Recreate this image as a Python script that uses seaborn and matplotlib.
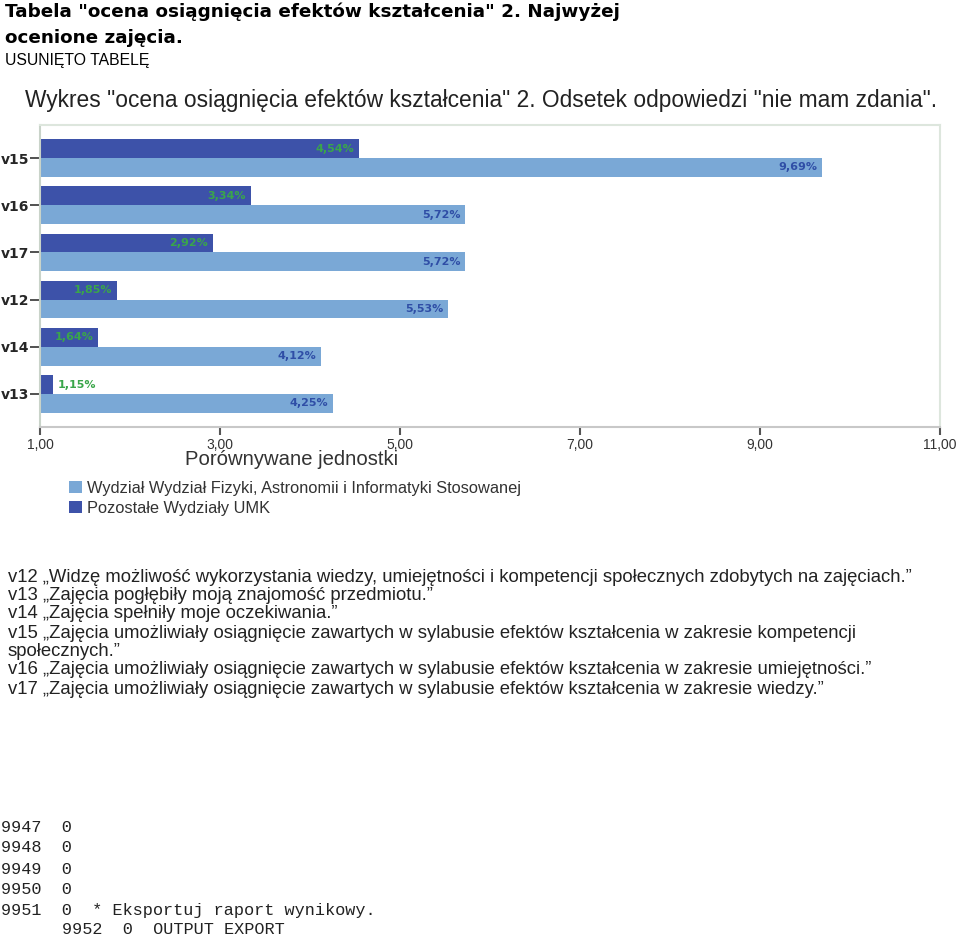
import matplotlib
matplotlib.use("Agg")
import matplotlib.pyplot as plt
import seaborn as sns
import pandas as pd
from matplotlib.patches import Patch

# ---- data ----
categories = ["v15", "v16", "v17", "v12", "v14", "v13"]
group_other = "Pozostałe Wydziały UMK"
group_faculty = "Wydział Wydział Fizyki, Astronomii i Informatyki Stosowanej"
values_other = [4.54, 3.34, 2.92, 1.85, 1.64, 1.15]
values_faculty = [9.69, 5.72, 5.72, 5.53, 4.12, 4.25]
x_ticks = [1, 3, 5, 7, 9, 11]
x_tick_labels = ["1,00", "3,00", "5,00", "7,00", "9,00", "11,00"]
notes = [
    "v12 \u201eWidzę możliwość wykorzystania wiedzy, umiejętności i kompetencji społecznych zdobytych na zajęciach.\u201d",
    "v13 \u201eZajęcia pogłębiły moją znajomość przedmiotu.\u201d",
    "v14 \u201eZajęcia spełniły moje oczekiwania.\u201d",
    "v15 \u201eZajęcia umożliwiały osiągnięcie zawartych w sylabusie efektów kształcenia w zakresie kompetencji",
    "społecznych.\u201d",
    "v16 \u201eZajęcia umożliwiały osiągnięcie zawartych w sylabusie efektów kształcenia w zakresie umiejętności.\u201d",
    "v17 \u201eZajęcia umożliwiały osiągnięcie zawartych w sylabusie efektów kształcenia w zakresie wiedzy.\u201d",
]
code_lines = ["9947  0", "9948  0", "9949  0", "9950  0", "9951  0  * Eksportuj raport wynikowy."]
code_last = "9952  0  OUTPUT EXPORT"

df = pd.DataFrame({
    "zmienna": categories * 2,
    "grupa": [group_other] * len(categories) + [group_faculty] * len(categories),
    "odsetek": values_other + values_faculty,
})

c_dark = "#3d52a9"
c_light = "#7aa8d6"
palette = {group_other: c_dark, group_faculty: c_light}

sns.set_style("white")
narrow = ["Liberation Sans", "DejaVu Sans"]
mono = ["Liberation Mono", "DejaVu Sans Mono"]
plt.rcParams["font.family"] = ["DejaVu Sans"]

W, H = 960, 936
fig = plt.figure(figsize=(9.6, 9.36), dpi=100)

def fx(px):
    return px / W

def fy(py):
    return 1 - py / H

ax = fig.add_axes([fx(40), fy(427), fx(940) - fx(40), fy(125) - fy(427)])
sns.barplot(data=df, y="zmienna", x="odsetek", hue="grupa", order=categories,
            hue_order=[group_other, group_faculty], palette=palette, orient="h",
            width=0.8, saturation=1, legend=False, linewidth=0, edgecolor="none", ax=ax)

ax.set_xlim(1, 11)
ax.set_ylim(5.7, -0.7)
ax.set_xticks(x_ticks)
ax.set_xticklabels(x_tick_labels, fontsize=10, family=narrow, color="#333333")
ax.set_xlabel("")
ax.set_ylabel("")
ax.tick_params(axis="y", length=7, width=1.2, color="#333333", labelsize=10, pad=0.5)
ax.tick_params(axis="x", length=5.5, width=1.5, color="#555555", pad=2.5, direction="out")
for lab in ax.get_yticklabels():
    lab.set_fontweight("bold")
ax.xaxis.set_ticks_position("bottom")
ax.yaxis.set_ticks_position("left")
for side in ["top", "right"]:
    ax.spines[side].set_color("#dde6dd")
    ax.spines[side].set_linewidth(1.5)
ax.spines["left"].set_color("#c9d3c9")
ax.spines["left"].set_linewidth(1.5)
ax.spines["bottom"].set_color("#c8c8c8")
ax.spines["bottom"].set_linewidth(1.5)

# value labels
label_colors = ["#3aa64a", "#2f4ea6"]
for cont, col in zip(ax.containers, label_colors):
    for p in cont:
        w = p.get_width()
        yc = p.get_y() + p.get_height() / 2
        txt = f"{w:.2f}%".replace(".", ",")
        if w - 1 < 0.6:
            ax.text(w + 0.05, yc, txt, ha="left", va="center", color=col,
                    fontsize=8, fontweight="bold")
        else:
            ax.text(w - 0.05, yc, txt, ha="right", va="center", color=col,
                    fontsize=8, fontweight="bold")

# titles & texts
fig.text(fx(5), fy(12), "Tabela \"ocena osiągnięcia efektów kształcenia\" 2. Najwyżej",
         fontsize=13.2, fontweight="bold", va="center", ha="left", color="black")
fig.text(fx(5), fy(38), "ocenione zajęcia.", fontsize=13.2, fontweight="bold",
         va="center", ha="left", color="black")
fig.text(fx(5), fy(61), "USUNIĘTO TABELĘ", fontsize=11.3, family=narrow,
         va="center", ha="left", color="black")
fig.text(fx(481), fy(100), "Wykres \"ocena osiągnięcia efektów kształcenia\" 2. Odsetek odpowiedzi \"nie mam zdania\".",
         fontsize=16.4, family=narrow, va="center", ha="center", color="#222222")
fig.text(fx(292), fy(459), "Porównywane jednostki", fontsize=14.6, family=narrow,
         va="center", ha="center", color="#333333")

handles = [Patch(facecolor=c_light, edgecolor="none"), Patch(facecolor=c_dark, edgecolor="none")]
fig.legend(handles, [group_faculty, group_other], loc="upper left",
           bbox_to_anchor=(fx(54), fy(466)), frameon=False,
           prop={"family": narrow, "size": 11.8}, handlelength=0.8, handleheight=0.8,
           handletextpad=0.3, labelspacing=0.3, labelcolor="#333333")

note_y = [577, 596, 614, 633, 651, 670, 689]
for t, yy in zip(notes, note_y):
    fig.text(fx(8), fy(yy), t, fontsize=13.3, family=narrow, va="center", ha="left",
             color="#222222")

code_y = [828, 848, 869, 889, 910]
for t, yy in zip(code_lines, code_y):
    fig.text(fx(1), fy(yy), t, fontsize=12.2, family=mono, va="center", ha="left",
             color="#222222")
fig.text(fx(62), fy(930), code_last, fontsize=12.2, family=mono,
         va="center", ha="left", color="#222222")

fig.savefig("out.png", dpi=100)
